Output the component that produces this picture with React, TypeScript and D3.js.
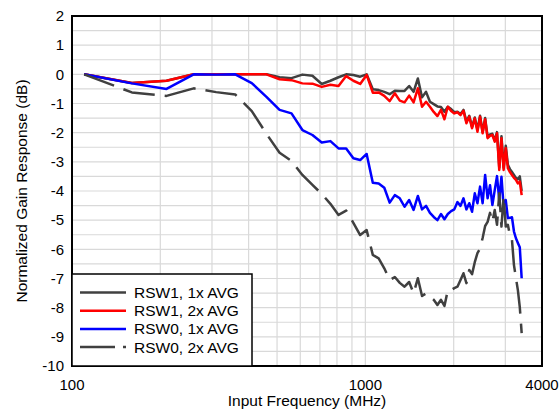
import React, { useEffect, useRef } from 'react';
import * as d3 from 'd3';

// sweep frequencies (MHz)
const freqs = [
  110, 160, 210, 260, 310, 360, 410, 460, 510, 560,
  610, 660, 710, 760, 810, 860, 910, 960, 1010, 1060,
  1110, 1160, 1210, 1260, 1310, 1360, 1410, 1460, 1510, 1560,
  1610, 1660, 1710, 1760, 1810, 1860, 1910, 1960, 2010, 2060,
  2110, 2160, 2210, 2260, 2310, 2360, 2410, 2460, 2510, 2560,
  2610, 2660, 2710, 2760, 2810, 2860, 2910, 2960, 3010, 3060,
  3110, 3160, 3210, 3260, 3310, 3360, 3410,
];

const rsw1x1 = [
  0, -0.3, -0.22, 0, 0, 0, 0, 0, -0.1, -0.13,
  -0.01, -0.05, -0.33, -0.22, -0.1, 0, -0.02, -0.08, 0, -0.51,
  -0.54, -0.6, -0.68, -0.56, -0.57, -0.57, -0.4, -0.6, -0.14, -0.79,
  -0.6, -0.94, -1.02, -1.1, -1.12, -1.28, -1.11, -1.19, -1.3, -1.28,
  -1.36, -1.22, -1.62, -1.42, -1.8, -1.48, -1.9, -1.42, -1.98, -1.5,
  -2.14, -2.06, -2.04, -2.26, -1.98, -3.2, -2.12, -3.2, -2.45, -3.1,
  -3.25, -3.35, -3.45, -3.55, -3.6, -3.5, -4.0,
];

const rsw1x2 = [
  0, -0.3, -0.22, 0, 0, 0, 0, 0, -0.17, -0.2,
  -0.31, -0.32, -0.43, -0.36, -0.4, -0.06, -0.22, -0.33, -0.02, -0.63,
  -0.62, -0.74, -0.92, -0.65, -0.9, -0.96, -0.73, -0.96, -0.48, -1.11,
  -0.94, -1.11, -1.29, -1.43, -1.22, -1.54, -1.11, -1.26, -1.34, -1.3,
  -1.4, -1.25, -1.68, -1.45, -1.85, -1.51, -1.97, -1.45, -2.02, -1.54,
  -2.19, -2.11, -2.08, -2.31, -2.02, -3.28, -2.19, -3.28, -2.53, -3.22,
  -3.35, -3.45, -3.55, -3.62, -3.74, -3.68, -4.14,
];

const rsw0x1 = [
  0, -0.31, -0.5, 0, -0.01, 0, -0.3, -0.77, -1.22, -1.34,
  -1.91, -2.08, -2.34, -2.29, -2.54, -2.54, -2.88, -2.94, -2.73, -3.72,
  -3.74, -3.89, -4.4, -4.14, -4.25, -4.54, -4.31, -4.65, -4.17, -4.63,
  -4.51, -4.75, -4.89, -5.0, -4.79, -4.97, -4.79, -4.69, -4.63, -4.38,
  -4.51, -4.25, -4.63, -4.42, -4.71, -4.08, -4.42, -3.85, -4.42, -3.45,
  -4.25, -3.8, -4.48, -3.97, -3.49, -4.31, -3.51, -4.54, -4.31, -4.93,
  -4.92, -4.9, -5.39, -5.62, -5.78, -5.93, -6.99,
];

const rsw0x2 = [
  0, -0.62, -0.74, -0.48, -0.61, -0.69, -1.26, -2.04, -2.69, -2.97,
  -3.45, -3.79, -4.1, -4.44, -4.82, -4.67, -5.09, -5.51, -5.34, -6.19,
  -6.31, -6.65, -7.05, -6.95, -7.15, -7.28, -7.12, -7.51, -6.99, -7.6,
  -7.51, -7.62, -7.73, -7.91, -7.73, -7.94, -7.4, -7.4, -7.33, -7.28,
  -7.05, -6.82, -7.16, -6.71, -6.85, -6.44, -6.13, -5.97, -5.61, -5.2,
  -5.06, -4.75, -5.06, -4.65, -5.16, -4.08, -5.22, -4.18, -5.22, -5.16,
  -5.51, -5.68, -6.54, -6.98, -7.4, -7.98, -8.87,
];

const seriesNames = ['RSW1, 1x AVG', 'RSW1, 2x AVG', 'RSW0, 1x AVG', 'RSW0, 2x AVG'];
const xTickLabels = [100, 1000, 4000];
const yTicks = [2, 1, 0, -1, -2, -3, -4, -5, -6, -7, -8, -9, -10];

const FONT = '"Liberation Sans", Arial, sans-serif';

const Chart = () => {
  const svgRef = useRef(null);

  useEffect(() => {
    const width = 560;
    const height = 410;
    const left = 72, top = 16, right = 542, bottom = 366;

    const svg = d3.select(svgRef.current).attr('width', width).attr('height', height);
    svg.selectAll('*').remove();

    const x = d3.scaleLog().domain([100, 4000]).range([left, right]);
    const y = d3.scaleLinear().domain([-10, 2]).range([bottom, top]);

    // grid
    const hGrid = d3.range(-9.5, 2, 0.5);
    svg.append('g')
      .selectAll('line')
      .data(hGrid)
      .join('line')
      .attr('x1', left).attr('x2', right)
      .attr('y1', (d) => y(d)).attr('y2', (d) => y(d))
      .attr('stroke', '#d9d9d9').attr('stroke-width', 1.2);

    const vGrid = [200, 300, 400, 500, 600, 700, 800, 900, 1000, 2000, 3000];
    svg.append('g')
      .selectAll('line')
      .data(vGrid)
      .join('line')
      .attr('x1', (d) => x(d)).attr('x2', (d) => x(d))
      .attr('y1', top).attr('y2', bottom)
      .attr('stroke', '#d9d9d9').attr('stroke-width', 1.2);

    svg.append('clipPath').attr('id', 'plot-clip')
      .append('rect').attr('x', left).attr('y', top)
      .attr('width', right - left).attr('height', bottom - top);

    const series = [
      { name: seriesNames[0], values: rsw1x1, color: '#404040', dash: null },
      { name: seriesNames[1], values: rsw1x2, color: '#ff0000', dash: null },
      { name: seriesNames[2], values: rsw0x1, color: '#0000ff', dash: null },
      { name: seriesNames[3], values: rsw0x2, color: '#404040', dash: '32,10' },
    ];

    const line = d3.line()
      .x((d) => x(d[0]))
      .y((d) => y(d[1]));

    const plot = svg.append('g').attr('clip-path', 'url(#plot-clip)');
    series.forEach((s) => {
      const pts = freqs.map((f, i) => [f, s.values[i]]);
      plot.append('path')
        .datum(pts)
        .attr('d', line)
        .attr('fill', 'none')
        .attr('stroke', s.color)
        .attr('stroke-width', 2.5)
        .attr('stroke-linejoin', 'round')
        .attr('stroke-dasharray', s.dash);
    });

    // frame
    svg.append('rect')
      .attr('x', left).attr('y', top)
      .attr('width', right - left).attr('height', bottom - top)
      .attr('fill', 'none').attr('stroke', '#000').attr('stroke-width', 2);

    // y tick labels
    svg.append('g')
      .selectAll('text')
      .data(yTicks)
      .join('text')
      .attr('x', left - 8)
      .attr('y', (d) => y(d))
      .attr('dy', '0.35em')
      .attr('text-anchor', 'end')
      .attr('font-family', FONT)
      .attr('font-size', 15)
      .text((d) => d);

    // x tick labels
    svg.append('g')
      .selectAll('text')
      .data(xTickLabels)
      .join('text')
      .attr('x', (d) => x(d))
      .attr('y', 390)
      .attr('text-anchor', 'middle')
      .attr('font-family', FONT)
      .attr('font-size', 15)
      .text((d) => d);

    // axis titles
    svg.append('text')
      .attr('x', (left + right) / 2)
      .attr('y', 406)
      .attr('text-anchor', 'middle')
      .attr('font-family', FONT)
      .attr('font-size', 15.5)
      .text('Input Frequency (MHz)');

    svg.append('text')
      .attr('transform', `translate(27, ${(top + bottom) / 2}) rotate(-90)`)
      .attr('text-anchor', 'middle')
      .attr('font-family', FONT)
      .attr('font-size', 15.5)
      .text('Normalized Gain Response (dB)');

    // legend
    const legend = svg.append('g');
    legend.append('rect')
      .attr('x', left).attr('y', 274)
      .attr('width', 180).attr('height', bottom - 274)
      .attr('fill', '#fff').attr('stroke', '#000').attr('stroke-width', 1.5);

    series.forEach((s, i) => {
      const ly = 292.5 + i * 18.2;
      legend.append('line')
        .attr('x1', 80).attr('x2', 126)
        .attr('y1', ly).attr('y2', ly)
        .attr('stroke', s.color)
        .attr('stroke-width', 2.5)
        .attr('stroke-dasharray', s.dash ? '35,8,3,10' : null);
      legend.append('text')
        .attr('x', 134)
        .attr('y', ly)
        .attr('dy', '0.35em')
        .attr('font-family', FONT)
        .attr('font-size', 15.5)
        .text(s.name);
    });
  }, []);

  return <svg ref={svgRef} style={{ position: 'absolute', left: 0, top: 0 }} />;
};

export default function App() {
  return <Chart />;
}
